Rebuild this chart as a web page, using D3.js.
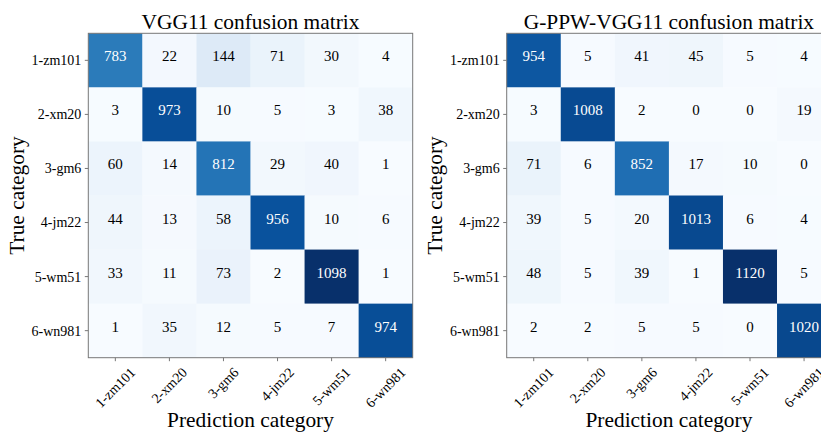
<!DOCTYPE html>
<meta charset="utf-8">
<style>
  html, body {
    margin: 0;
    padding: 0;
    background: #fff;
  }
  svg {
    display: block;
    overflow: hidden;
    font-family: "Liberation Serif", "Times New Roman", serif;
  }
  .frame {
    fill: none;
    stroke: #777;
    stroke-width: 1;
  }
  .axis line {
    stroke: #777;
  }
  .axis text {
    font-family: "Liberation Serif", "Times New Roman", serif;
    font-size: 14px;
    fill: #000;
  }
</style>
<div id="chart"></div>

<script src="https://cdnjs.cloudflare.com/ajax/libs/d3/7.8.5/d3.min.js"></script>
<script>
var categories = ["1-zm101", "2-xm20", "3-gm6", "4-jm22", "5-wm51", "6-wn981"];

// rows = true category, columns = predicted category
var vggMatrix = [
  [783, 22, 144, 71, 30, 4],
  [3, 973, 10, 5, 3, 38],
  [60, 14, 812, 29, 40, 1],
  [44, 13, 58, 956, 10, 6],
  [33, 11, 73, 2, 1098, 1],
  [1, 35, 12, 5, 7, 974]
];

var gppwMatrix = [
  [954, 5, 41, 45, 5, 4],
  [3, 1008, 2, 0, 0, 19],
  [71, 6, 852, 17, 10, 0],
  [39, 5, 20, 1013, 6, 4],
  [48, 5, 39, 1, 1120, 5],
  [2, 2, 5, 5, 0, 1020]
];

var titles = ["VGG11 confusion matrix", "G-PPW-VGG11 confusion matrix"];

// matplotlib "Blues"
var blues = ["#f7fbff", "#deebf7", "#c6dbef", "#9ecae1", "#6baed6",
             "#4292c6", "#2171b5", "#08519c", "#08306b"];

var width = 821, height = 432;
var size = 324.4;
var mTop = 33.3;
var panels = [
  {x: 88.3, matrix: vggMatrix, title: titles[0]},
  {x: 506.7, matrix: gppwMatrix, title: titles[1]}
];

var svg = d3.select("#chart").append("svg")
  .attr("width", width)
  .attr("height", height);

svg.append("rect").attr("width", width).attr("height", height).attr("fill", "#fff");

panels.forEach(function(p) {
  var max = d3.max(p.matrix, function(r) { return d3.max(r); });
  var color = d3.scaleLinear()
    .domain(blues.map(function(_, i) { return max * i / (blues.length - 1); }))
    .range(blues)
    .interpolate(d3.interpolateRgb);

  var x = d3.scaleBand().domain(categories).range([0, size]);
  var y = d3.scaleBand().domain(categories).range([0, size]);

  var g = svg.append("g").attr("transform", "translate(" + p.x + "," + mTop + ")");

  var cells = [];
  p.matrix.forEach(function(row, i) {
    row.forEach(function(v, j) {
      cells.push({t: categories[i], p: categories[j], v: v});
    });
  });

  g.selectAll("rect.cell")
    .data(cells)
    .enter().append("rect")
      .attr("class", "cell")
      .attr("x", function(d) { return x(d.p); })
      .attr("y", function(d) { return y(d.t); })
      .attr("width", x.bandwidth() + 0.3)
      .attr("height", y.bandwidth() + 0.3)
      .attr("fill", function(d) { return color(d.v); });

  g.selectAll("text.val")
    .data(cells)
    .enter().append("text")
      .attr("class", "val")
      .attr("x", function(d) { return x(d.p) + x.bandwidth() / 2; })
      .attr("y", function(d) { return y(d.t) + y.bandwidth() / 2 + 1; })
      .attr("text-anchor", "middle")
      .attr("font-size", "15px")
      .attr("fill", function(d) { return d.v > max / 2 ? "#fff" : "#000"; })
      .text(function(d) { return d.v; });

  g.append("rect")
    .attr("class", "frame")
    .attr("width", size)
    .attr("height", size);

  // y axis
  var ya = g.append("g").attr("class", "axis")
    .call(d3.axisLeft(y).tickSize(3.5).tickPadding(3.5));
  ya.select(".domain").remove();
  ya.selectAll("text").attr("dy", "0.35em");

  // x axis, labels rotated 45deg with their box centred on the tick
  var xa = g.append("g").attr("class", "axis")
    .attr("transform", "translate(0," + size + ")")
    .call(d3.axisBottom(x).tickSize(3.5));
  xa.select(".domain").remove();
  xa.selectAll("text").each(function() {
    var t = d3.select(this);
    var w = this.getComputedTextLength();
    var h = 14 * 1.1;
    var cy = 7 + (w + h) * Math.SQRT1_2 / 2;
    t.attr("y", null).attr("dy", "0.32em")
      .attr("text-anchor", "middle")
      .attr("transform", "translate(0," + cy + ") rotate(-45)");
  });

  g.append("text")
    .attr("x", size / 2)
    .attr("y", 29 - mTop)
    .attr("text-anchor", "middle")
    .attr("font-size", "21.4px")
    .text(p.title);

  g.append("text")
    .attr("x", size / 2)
    .attr("y", 427 - mTop)
    .attr("text-anchor", "middle")
    .attr("font-size", "21.4px")
    .text("Prediction category");

  g.append("text")
    .attr("transform", "translate(" + (24 - 88.3) + "," + (size / 2) + ") rotate(-90)")
    .attr("text-anchor", "middle")
    .attr("font-size", "21.4px")
    .text("True category");
});
</script>
